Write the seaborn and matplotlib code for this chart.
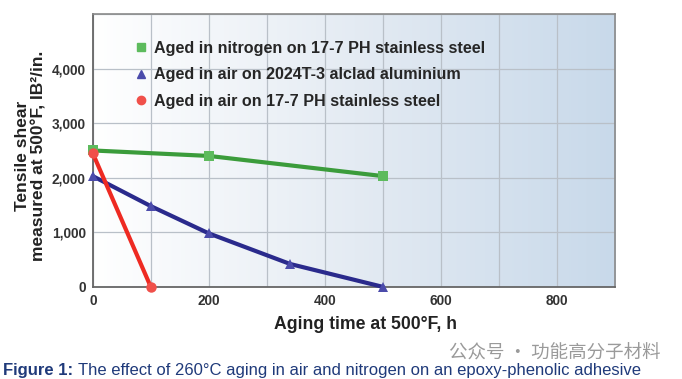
import numpy as np
import pandas as pd
import matplotlib.pyplot as plt
import seaborn as sns
from matplotlib.lines import Line2D
from matplotlib.colors import LinearSegmentedColormap

# data
nitrogen_ss_x = [0, 200, 500]
nitrogen_ss_y = [2500, 2400, 2030]
air_al_x = [0, 100, 200, 340, 500]
air_al_y = [2030, 1480, 980, 420, 0]
air_ss_x = [0, 100]
air_ss_y = [2450, 0]

labels = ["Aged in nitrogen on 17-7 PH stainless steel",
          "Aged in air on 2024T-3 alclad aluminium",
          "Aged in air on 17-7 PH stainless steel"]
x_ticks = [0, 200, 400, 600, 800]
y_ticks = [0, 1000, 2000, 3000, 4000]

df = pd.concat([
    pd.DataFrame({"t": nitrogen_ss_x, "s": nitrogen_ss_y, "series": labels[0]}),
    pd.DataFrame({"t": air_al_x, "s": air_al_y, "series": labels[1]}),
    pd.DataFrame({"t": air_ss_x, "s": air_ss_y, "series": labels[2]}),
])

sns.set_style("white")
plt.rcParams["font.family"] = ["Liberation Sans", "DejaVu Sans"]

line_cols = {labels[0]: "#3b9c3b", labels[1]: "#2a2a8c", labels[2]: "#ee2a22"}
mark_cols = ["#5dbb5d", "#4b4bab", "#f0504a"]
marks = {labels[0]: "s", labels[1]: "^", labels[2]: "o"}

fig = plt.figure(figsize=(6.82, 3.79), dpi=100)
ax = fig.add_axes([0.136, 0.243, 0.766, 0.720])

# background gradient white -> light blue
grad = np.linspace(0, 1, 256).reshape(1, -1)
bg = LinearSegmentedColormap.from_list("bg", ["#ffffff", "#e4ebf3", "#c8d9ea"])
ax.imshow(grad, cmap=bg, extent=[0, 900, 0, 5000], aspect="auto", zorder=0)

sns.lineplot(data=df, x="t", y="s", hue="series", style="series",
             palette=line_cols, markers=marks, dashes=False, lw=3,
             markersize=7.5, markeredgewidth=0, legend=False, ax=ax, zorder=3)
for ln, mc in zip(ax.lines, mark_cols):
    ln.set_markerfacecolor(mc)
    ln.set_clip_on(False)

ax.set_xlim(0, 900)
ax.set_ylim(0, 5000)
ax.set_xticks(range(0, 901, 100))
ax.set_xticklabels([str(v) if v in x_ticks else "" for v in range(0, 901, 100)])
ax.set_yticks(range(0, 5001, 1000))
ax.set_yticklabels([f"{v:,}" if v in y_ticks else "" for v in range(0, 5001, 1000)])
ax.grid(True, color="#b9c0c8", lw=0.9)
for g in ax.get_xgridlines() + ax.get_ygridlines():
    g.set_zorder(1)
ax.tick_params(length=0, labelsize=9.8, labelcolor="#333333", pad=5)
for t in ax.get_xticklabels() + ax.get_yticklabels():
    t.set_fontweight("bold")
for side in ["left", "bottom"]:
    ax.spines[side].set_color("#666666")
    ax.spines[side].set_linewidth(1.3)
for side in ["top", "right"]:
    ax.spines[side].set_color("#8a8a8a")
    ax.spines[side].set_linewidth(1.2)

ax.set_xlabel("Aging time at 500°F, h", fontsize=12.7, fontweight="bold",
              color="#222222")
ax.xaxis.set_label_coords(0.523, -0.105)
ax.set_ylabel("Tensile shear\nmeasured at 500°F, IB²/in.", fontsize=12.5,
              fontweight="bold", color="#222222", linespacing=1.15)
ax.yaxis.set_label_coords(-0.088, 0.48)

handles = [Line2D([], [], ls="none", marker=marks[l], color=c, markersize=6)
           for l, c in zip(labels, mark_cols)]
ax.legend(handles, labels, loc="upper left", bbox_to_anchor=(0.05, 0.955),
          frameon=False, handletextpad=0.35, labelspacing=0.72,
          prop={"weight": "bold", "size": 11.6}, handlelength=0.9)

# caption
fig.canvas.draw()
r = fig.canvas.get_renderer()
cap1 = fig.text(0.005, 0.003, "Figure 1:", fontsize=12, fontweight="bold",
                color="#1f3a7a", va="bottom")
bb = cap1.get_window_extent(r)
fig.text((bb.x1 + 4) / fig.bbox.width, 0.003,
         "The effect of 260°C aging in air and nitrogen on an epoxy-phenolic adhesive",
         fontsize=12, color="#1f3a7a", va="bottom")
fig.text(0.968, 0.055, "公众号 · 功能高分子材料", fontsize=13.3, color="#9a9a9a",
         ha="right", family=["Noto Sans CJK SC", "DejaVu Sans"])

fig.savefig("out.png", dpi=100)
